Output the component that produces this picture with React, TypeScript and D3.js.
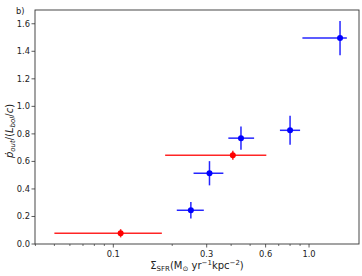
import * as d3 from "d3";

const W = 362, H = 276;
const M = { left: 35, right: 3, top: 10, bottom: 32 };

// red sample
const redX = [0.109, 0.408];
const redY = [0.078, 0.645];
const redXLo = [0.05, 0.184];
const redXHi = [0.177, 0.605];
const redYErr = [0.03, 0.033];

// blue sample
const blueX = [0.249, 0.31, 0.449, 0.80, 1.44];
const blueY = [0.245, 0.514, 0.769, 0.826, 1.496];
const blueXLo = [0.211, 0.257, 0.387, 0.71, 0.925];
const blueXHi = [0.29, 0.365, 0.524, 0.90, 1.56];
const blueYErr = [0.06, 0.088, 0.085, 0.105, 0.124];

const xTicks = [0.1, 0.3, 0.6, 1.0];
const xTickLabels = ["0.1", "0.3", "0.6", "1.0"];
const yTicks = [0, 0.2, 0.4, 0.6, 0.8, 1.0, 1.2, 1.4, 1.6];

const FONT = "DejaVu Sans, sans-serif";

function Series({ xs, ys, lo, hi, yerr, color, x, y }: any) {
  return (
    <g>
      {xs.map((v: number, i: number) => (
        <g key={i}>
          <line x1={x(lo[i])} x2={x(hi[i])} y1={y(ys[i])} y2={y(ys[i])} stroke={color} strokeWidth={1.5} opacity={0.85} />
          <line x1={x(v)} x2={x(v)} y1={y(ys[i] - yerr[i])} y2={y(ys[i] + yerr[i])} stroke={color} strokeWidth={1.5} opacity={0.85} />
          <circle cx={x(v)} cy={y(ys[i])} r={3} fill={color} />
        </g>
      ))}
    </g>
  );
}

export default function App() {
  const x = d3.scaleLog().domain([0.0398, 1.8]).range([M.left, W - M.right]);
  const y = d3.scaleLinear().domain([0, 1.7]).range([H - M.bottom, M.top]);
  const x0 = M.left, x1 = W - M.right, y0 = H - M.bottom, y1 = M.top;

  const minor: number[] = [];
  [0.01, 0.1, 1].forEach((d) => {
    for (let k = 2; k <= 9; k++) {
      const v = d * k;
      if (v >= 0.0398 && v <= 1.8 && !xTicks.some((t) => Math.abs(t - v) < 1e-9)) minor.push(v);
    }
  });

  return (
    <svg width={W} height={H} style={{ position: "absolute", left: 0, top: 0, background: "#fff" }} fontFamily={FONT}>
      <Series xs={redX} ys={redY} lo={redXLo} hi={redXHi} yerr={redYErr} color="#ff0000" x={x} y={y} />
      <Series xs={blueX} ys={blueY} lo={blueXLo} hi={blueXHi} yerr={blueYErr} color="#0000ff" x={x} y={y} />

      <rect x={x0} y={y1} width={x1 - x0} height={y0 - y1} fill="none" stroke="#333" strokeWidth={0.9} />

      {minor.map((v) => (
        <line key={v} x1={x(v)} x2={x(v)} y1={y0} y2={y0 + 2} stroke="#333" strokeWidth={0.7} />
      ))}
      {xTicks.map((v, i) => (
        <g key={v}>
          <line x1={x(v)} x2={x(v)} y1={y0} y2={y0 + 3.5} stroke="#333" strokeWidth={0.8} />
          <text x={x(v)} y={y0 + 13} textAnchor="middle" fontSize={8.3} fill="#222">{xTickLabels[i]}</text>
        </g>
      ))}
      {yTicks.map((v) => (
        <g key={v}>
          <line x1={x0 - 3.5} x2={x0} y1={y(v)} y2={y(v)} stroke="#333" strokeWidth={0.8} />
          <text x={x0 - 5} y={y(v) + 3} textAnchor="end" fontSize={8.3} fill="#222">{v.toFixed(1)}</text>
        </g>
      ))}

      <text x={16} y={14} fontSize={8.3} fill="#222">b)</text>

      <text x={(x0 + x1) / 2} y={269} textAnchor="middle" fontSize={10} fill="#222">
        Σ<tspan fontSize={7} dy={2}>SFR</tspan>
        <tspan dy={-2}>(M</tspan>
        <tspan fontSize={7} dy={2}>⊙</tspan>
        <tspan dy={-2}> yr</tspan>
        <tspan fontSize={7} dy={-4}>−1</tspan>
        <tspan dy={4}>kpc</tspan>
        <tspan fontSize={7} dy={-4}>−2</tspan>
        <tspan dy={4}>)</tspan>
      </text>

      <text transform={`translate(13,131) rotate(-90)`} textAnchor="middle" fontSize={10} fill="#222">
        <tspan fontStyle="italic">ṗ</tspan>
        <tspan fontSize={7} dy={2} fontStyle="italic">out</tspan>
        <tspan dy={-2}>/(</tspan>
        <tspan fontStyle="italic">L</tspan>
        <tspan fontSize={7} dy={2} fontStyle="italic">bol</tspan>
        <tspan dy={-2}>/</tspan>
        <tspan fontStyle="italic">c</tspan>
        <tspan>)</tspan>
      </text>
    </svg>
  );
}
